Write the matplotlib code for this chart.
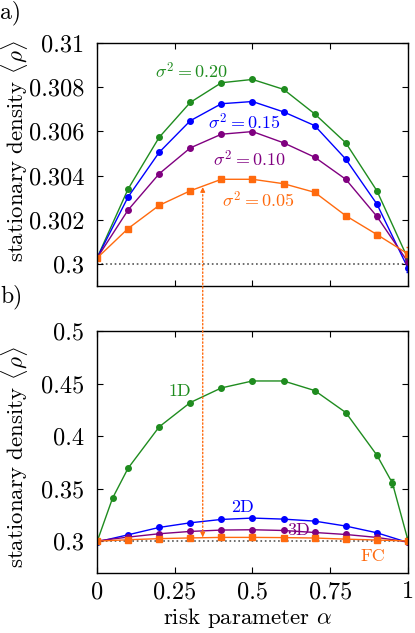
import numpy as np
import matplotlib
matplotlib.use("Agg")
from matplotlib import pyplot as plt
from matplotlib.patches import ConnectionPatch
from matplotlib.ticker import FuncFormatter

plt.rcParams['font.family'] = 'serif'
plt.rcParams['font.serif'] = ['cmr10', 'DejaVu Serif']
plt.rcParams['mathtext.fontset'] = 'cm'
plt.rcParams['axes.formatter.use_mathtext'] = True

GREEN = '#1f8c1f'
BLUE = '#0000ff'
PURPLE = '#800080'
ORANGE = '#ff6a0e'

# panel a) different noise strengths
alpha_a = [0, 0.1, 0.2, 0.3, 0.4, 0.5, 0.6, 0.7, 0.8, 0.9, 1.0]
rho_s20 = [0.30026, 0.30339, 0.30573, 0.30731, 0.30820, 0.30835, 0.30790, 0.30679, 0.30548, 0.30331, 0.30023]
rho_s15 = [0.30026, 0.30303, 0.30505, 0.30648, 0.30725, 0.30735, 0.30688, 0.30626, 0.30474, 0.30271, 0.29980]
rho_s10 = [0.30026, 0.30244, 0.30408, 0.30525, 0.30587, 0.30599, 0.30548, 0.30483, 0.30383, 0.30215, 0.30008]
rho_s05 = [0.30026, 0.30160, 0.30265, 0.30331, 0.30383, 0.30383, 0.30363, 0.30324, 0.30218, 0.30133, 0.30045]
err_s20 = [0.00002, 0.00003, 0.00003, 0.00003, 0.00003, 0.00003, 0.00003, 0.00004, 0.00006, 0.00010, 0.00015]
err_s15 = [0.00002, 0.00003, 0.00003, 0.00003, 0.00003, 0.00003, 0.00003, 0.00004, 0.00006, 0.00010, 0.00015]
err_s10 = [0.00002, 0.00003, 0.00003, 0.00003, 0.00003, 0.00003, 0.00003, 0.00004, 0.00006, 0.00010, 0.00015]
err_s05 = [0.00002, 0.00003, 0.00003, 0.00003, 0.00003, 0.00003, 0.00003, 0.00004, 0.00006, 0.00010, 0.00030]

# panel b) different lattices
alpha_1d = [0, 0.05, 0.1, 0.2, 0.3, 0.4, 0.5, 0.6, 0.7, 0.8, 0.9, 0.95, 1.0]
rho_1d = [0.2995, 0.3411, 0.3696, 0.4089, 0.4320, 0.4459, 0.4525, 0.4525, 0.4434, 0.4225, 0.3820, 0.3554, 0.3010]
err_1d = [0.0005, 0.0006, 0.0006, 0.0006, 0.0006, 0.0006, 0.0006, 0.0006, 0.0008, 0.0012, 0.0025, 0.0035, 0.0030]
alpha_b = [0, 0.1, 0.2, 0.3, 0.4, 0.5, 0.6, 0.7, 0.8, 0.9, 1.0]
rho_2d = [0.2995, 0.3063, 0.3133, 0.3177, 0.3209, 0.3222, 0.3212, 0.3193, 0.3146, 0.3082, 0.2990]
rho_3d = [0.3005, 0.3041, 0.3073, 0.3095, 0.3108, 0.3111, 0.3104, 0.3085, 0.3066, 0.3038, 0.2995]
rho_fc = rho_s05

alpha_star = 0.34
labels_a = ['$\\sigma^2 = 0.20$', '$\\sigma^2 = 0.15$', '$\\sigma^2 = 0.10$', '$\\sigma^2 = 0.05$']
labels_b = ['1D', '2D', '3D', 'FC']

fig = plt.figure(figsize=(4.15, 6.33), dpi=100)
ax1 = fig.add_axes([0.2337, 0.5482, 0.7494, 0.3839])
ax2 = fig.add_axes([0.2337, 0.0948, 0.7494, 0.3823])

fmt = FuncFormatter(lambda v, _: '{:g}'.format(v))
kw = dict(lw=1.0, ms=4, capsize=1.5, elinewidth=0.8)
lfs = 13

for ax in (ax1, ax2):
    ax.axhline(0.3, color='#555555', ls=':', lw=1.2, zorder=1)

ax1.errorbar(alpha_a, rho_s20, yerr=err_s20, color=GREEN, marker='o', **kw)
ax1.errorbar(alpha_a, rho_s15, yerr=err_s15, color=BLUE, marker='o', **kw)
ax1.errorbar(alpha_a, rho_s10, yerr=err_s10, color=PURPLE, marker='o', **kw)
ax1.errorbar(alpha_a, rho_s05, yerr=err_s05, color=ORANGE, marker='s', **kw)
ax1.text(0.305, 0.30873, labels_a[0], color=GREEN, fontsize=lfs, ha='center', va='center')
ax1.text(0.473, 0.30643, labels_a[1], color=BLUE, fontsize=lfs, ha='center', va='center')
ax1.text(0.49, 0.30474, labels_a[2], color=PURPLE, fontsize=lfs, ha='center', va='center')
ax1.text(0.52, 0.30290, labels_a[3], color=ORANGE, fontsize=lfs, ha='center', va='center')
ax1.set_xlim(0, 1)
ax1.set_ylim(0.299, 0.31)
ax1.set_yticks([0.3, 0.302, 0.304, 0.306, 0.308, 0.31])

ax2.errorbar(alpha_1d, rho_1d, yerr=err_1d, color=GREEN, marker='o', **kw)
ax2.errorbar(alpha_b, rho_2d, color=BLUE, marker='o', **kw)
ax2.errorbar(alpha_b, rho_3d, color=PURPLE, marker='o', **kw)
ax2.errorbar(alpha_b, rho_fc, color=ORANGE, marker='s', **kw)
ax2.text(0.267, 0.4424, labels_b[0], color=GREEN, fontsize=lfs, ha='center', va='center')
ax2.text(0.468, 0.3323, labels_b[1], color=BLUE, fontsize=lfs, ha='center', va='center')
ax2.text(0.647, 0.3104, labels_b[2], color=PURPLE, fontsize=lfs, ha='center', va='center')
ax2.text(0.888, 0.2858, labels_b[3], color=ORANGE, fontsize=lfs, ha='center', va='center')
ax2.set_xlim(0, 1)
ax2.set_ylim(0.27, 0.5)
ax2.set_yticks([0.3, 0.35, 0.4, 0.45, 0.5])
ax2.set_xlabel('risk parameter $\\alpha$', fontsize=16.5)
ax2.xaxis.set_label_coords(0.486, -0.135)

for ax in (ax1, ax2):
    ax.set_xticks([0, 0.25, 0.5, 0.75, 1])
    ax.xaxis.set_major_formatter(fmt)
    ax.yaxis.set_major_formatter(fmt)
    ax.tick_params(direction='in', top=True, right=True, length=4, width=0.8, labelsize=17.5)
    ax.tick_params(axis='y', pad=9)
    ax.tick_params(axis='x', pad=6)
    for s in ax.spines.values():
        s.set_linewidth(1.0)
    ax.set_ylabel('stationary density $\\langle\\rho\\rangle$', fontsize=16.5)
ax1.tick_params(labelbottom=False)
ax1.yaxis.set_label_coords(-0.214, 0.556)
ax2.yaxis.set_label_coords(-0.214, 0.479)

# dotted line connecting both panels at alpha*
con = ConnectionPatch(xyA=(alpha_star, 0.3033), coordsA=ax1.transData,
                      xyB=(alpha_star, 0.3046), coordsB=ax2.transData,
                      color=ORANGE, ls=':', lw=1.0, zorder=5)
fig.add_artist(con)
ax1.annotate('', xy=(alpha_star, 0.3036), xytext=(alpha_star, 0.3031),
             arrowprops=dict(arrowstyle='-|>', color=ORANGE, lw=0.8, mutation_scale=7))
ax2.annotate('', xy=(alpha_star, 0.3040), xytext=(alpha_star, 0.3080),
             arrowprops=dict(arrowstyle='-|>', color=ORANGE, lw=0.8, mutation_scale=7))

fig.text(0.0, 1 - 13 / 633, 'a)', fontsize=17, ha='left', va='center')
fig.text(0.0, 1 - 297 / 633, 'b)', fontsize=17, ha='left', va='center')

fig.savefig('out.png', dpi=100)
